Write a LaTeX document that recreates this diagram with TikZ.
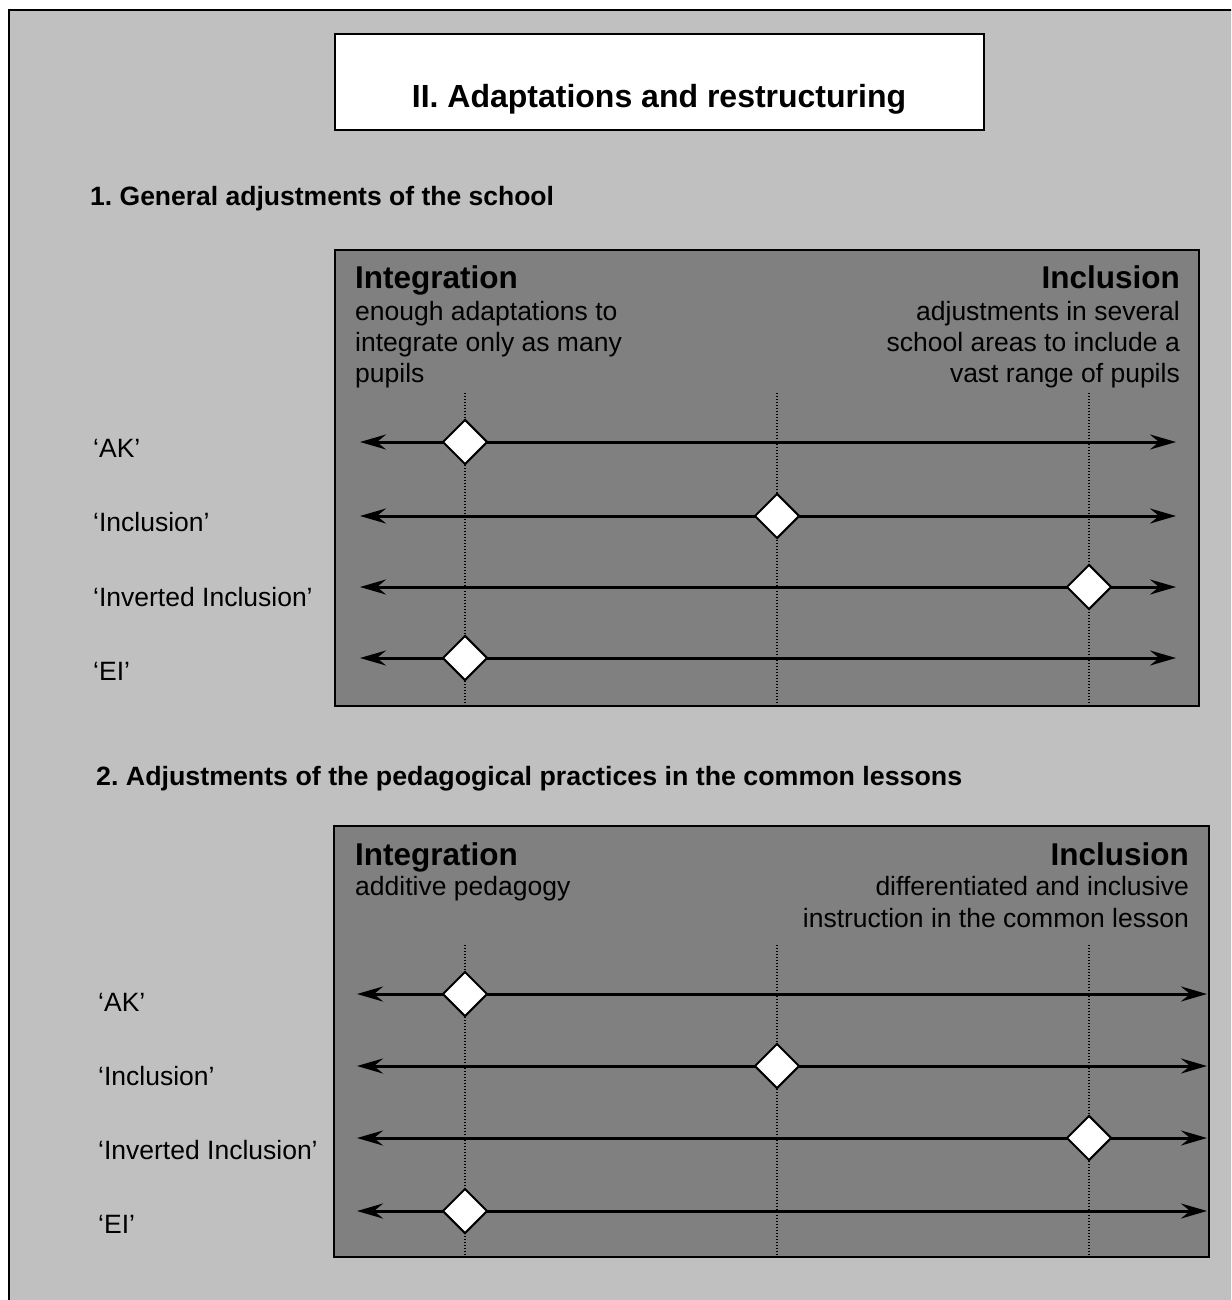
\documentclass[tikz,border=0pt]{standalone}
\usepackage{fontspec}
\setmainfont{Liberation Sans}
\usetikzlibrary{shapes.geometric,arrows.meta}
\definecolor{sheetgrey}{RGB}{192,192,192}
\definecolor{panelgrey}{RGB}{128,128,128}
\frenchspacing
\begin{document}
\begin{tikzpicture}[x=1pt,y=-1pt,
  txt/.style={font=\fontsize{26.5}{31}\selectfont, inner sep=0pt},
  headtxt/.style={font=\bfseries\fontsize{26.5}{31}\selectfont, inner sep=0pt},
  poletxt/.style={font=\bfseries\fontsize{31.5}{36}\selectfont, inner sep=0pt},
  titletxt/.style={font=\bfseries\fontsize{32}{38}\selectfont, inner sep=0pt},
  panel/.style={draw=black, line width=2pt, fill=panelgrey},
  gauge/.style={line width=3pt,
    {Stealth[length=26pt,width=15pt,inset=9pt]}-{Stealth[length=26pt,width=15pt,inset=9pt]}},
  marker/.style={diamond, draw=black, fill=white, line width=2pt,
    minimum width=45pt, minimum height=45pt, inner sep=0pt},
  guide/.style={line width=1.2pt, dash pattern=on 1.2pt off 1.8pt},
]
\useasboundingbox (0,0) rectangle (1231,1300);
\clip (0,0) rectangle (1231,1300);
\fill[white] (0,0) rectangle (1231,1300);

% sheet
\draw[line width=2pt, fill=sheetgrey] (9,10) rectangle (1250,1320);

% title box
\node[draw=black, line width=2pt, fill=white, minimum width=649pt, minimum height=96pt,
      inner sep=0pt] (titlebox) at (659.5,82) {};
\node[titletxt, anchor=base] (title) at (659,108) {II. Adaptations and restructuring};

% ---------- section 1 ----------
\node[headtxt, anchor=base west] (head1) at (90,205) {1. General adjustments of the school};

\draw[panel] (335,250) rectangle (1199,706);
\node[poletxt, anchor=base west] (int1) at (355,288) {Integration};
\node[txt, anchor=base west] (int1a) at (355,320) {enough adaptations to};
\node[txt, anchor=base west] (int1b) at (355,351) {integrate only as many};
\node[txt, anchor=base west] (int1c) at (355,382) {pupils};
\node[poletxt, anchor=base east] (inc1) at (1180,288) {Inclusion};
\node[txt, anchor=base east] (inc1a) at (1180,320) {adjustments in several};
\node[txt, anchor=base east] (inc1b) at (1180,351) {school areas to include a};
\node[txt, anchor=base east] (inc1c) at (1180,382) {vast range of pupils};

% guide lines
\coordinate (g1aT) at (465,393);  \coordinate (g1aB) at (465,705);
\coordinate (g1bT) at (777,393);  \coordinate (g1bB) at (777,705);
\coordinate (g1cT) at (1089,393); \coordinate (g1cB) at (1089,705);
\draw[guide] (g1aT) -- (g1aB);
\draw[guide] (g1bT) -- (g1bB);
\draw[guide] (g1cT) -- (g1cB);

% scales
\foreach \n/\y/\xm/\lab/\ly in {1/442/465/{‘AK’}/457, 2/516/777/{‘Inclusion’}/531,
    3/587/1089/{‘Inverted Inclusion’}/606, 4/658/465/{‘EI’}/680}{
  \node[txt, anchor=base west] (s1lab\n) at (93,\ly) {\lab};
  \coordinate (s1L\n) at (360,\y);
  \coordinate (s1R\n) at (1176,\y);
  \draw[gauge] (s1L\n) -- (s1R\n);
  \node[marker] (s1m\n) at (\xm,\y) {};
}

% ---------- section 2 ----------
\node[headtxt, anchor=base west] (head2) at (96,785)
  {\resizebox{866pt}{\height}{2. Adjustments of the pedagogical practices in the common lessons}};

\draw[panel] (334,826) rectangle (1209,1257);
\node[poletxt, anchor=base west] (int2) at (355,865) {Integration};
\node[txt, anchor=base west] (int2a) at (355,895) {additive pedagogy};
\node[poletxt, anchor=base east] (inc2) at (1189,865) {Inclusion};
\node[txt, anchor=base east] (inc2a) at (1189,895) {differentiated and inclusive};
\node[txt, anchor=base east] (inc2b) at (1189,927) {instruction in the common lesson};

\coordinate (g2aT) at (465,945);  \coordinate (g2aB) at (465,1256);
\coordinate (g2bT) at (777,945);  \coordinate (g2bB) at (777,1256);
\coordinate (g2cT) at (1089,945); \coordinate (g2cB) at (1089,1256);
\draw[guide] (g2aT) -- (g2aB);
\draw[guide] (g2bT) -- (g2bB);
\draw[guide] (g2cT) -- (g2cB);

\foreach \n/\y/\xm/\lab/\ly in {1/994/465/{‘AK’}/1011, 2/1066/777/{‘Inclusion’}/1085,
    3/1138/1089/{‘Inverted Inclusion’}/1159, 4/1211/465/{‘EI’}/1233}{
  \node[txt, anchor=base west] (s2lab\n) at (98,\ly) {\lab};
  \coordinate (s2L\n) at (357,\y);
  \coordinate (s2R\n) at (1207,\y);
  \draw[gauge] (s2L\n) -- (s2R\n);
  \node[marker] (s2m\n) at (\xm,\y) {};
}
\end{tikzpicture}
\end{document}
